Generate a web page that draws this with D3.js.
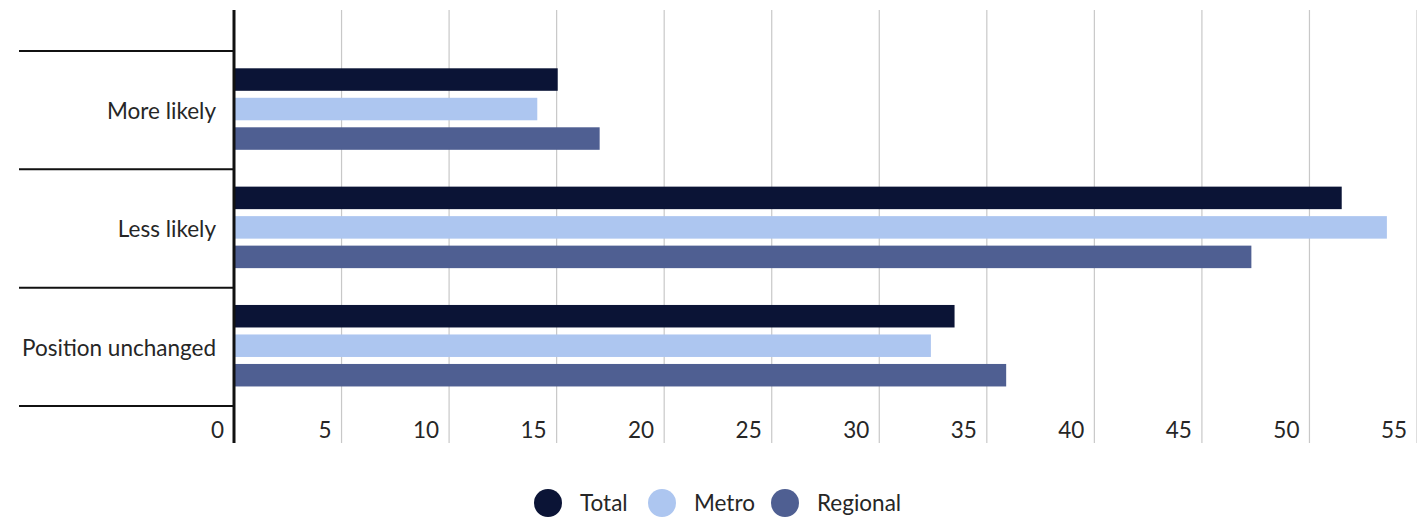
<!DOCTYPE html>
<html><head><meta charset="utf-8">
<script src="https://cdn.jsdelivr.net/npm/d3@7"></script>
<style>
html,body{margin:0;padding:0;background:#fff;}
text{font-family:Lato,"Open Sans",sans-serif;fill:#262626;}
</style></head>
<body><svg id="c" width="1417" height="520"></svg>
<script>
const categories = ["More likely","Less likely","Position unchanged"];
const seriesNames = ["Total","Metro","Regional"];
const totalValues = [15.05, 51.5, 33.5];
const metroValues = [14.1, 53.6, 32.4];
const regionalValues = [17.0, 47.3, 35.9];
const tickValues = [0,5,10,15,20,25,30,35,40,45,50,55];
const colors = ["#0b1436","#adc6f0","#4f5f92"];

const seriesData = [totalValues, metroValues, regionalValues];
const svg = d3.select("#c");
const x = d3.scaleLinear().domain([0,55]).range([234,1417]);
const y = d3.scaleBand().domain(categories).range([51,406]).padding(0);
const yInner = d3.scaleBand().domain(seriesNames).range([17.3,98.8]).paddingInner(0.237).paddingOuter(0);
const axisTop = 10, axisBottom = 443;
const fs = 22.5;

// gridlines
svg.append("g").selectAll("line").data(tickValues.filter(d=>d>0)).join("line")
  .attr("x1",d=>x(d)).attr("x2",d=>x(d)).attr("y1",axisTop).attr("y2",axisBottom)
  .attr("stroke","#c8c8c8").attr("stroke-width",1.2);

// tick labels
svg.append("g").selectAll("text").data(tickValues).join("text")
  .attr("x",d=>x(d)-10).attr("y",438).attr("text-anchor","end")
  .attr("font-size",fs).text(d=>d);

// bars
const g = svg.append("g");
categories.forEach((c,ci)=>{
  seriesNames.forEach((s,si)=>{
    g.append("rect")
      .attr("x",x(0)).attr("y",y(c)+yInner(s))
      .attr("width",x(seriesData[si][ci])-x(0)).attr("height",yInner.bandwidth())
      .attr("fill",colors[si]);
  });
});

// category separators
const seps = categories.map(c=>y(c)).concat([y.range()[1]]);
svg.append("g").selectAll("line").data(seps).join("line")
  .attr("x1",19).attr("x2",234).attr("y1",d=>d).attr("y2",d=>d)
  .attr("stroke","#111").attr("stroke-width",2);

// y axis line
svg.append("line").attr("x1",x(0)).attr("x2",x(0)).attr("y1",axisTop).attr("y2",axisBottom)
  .attr("stroke","#111").attr("stroke-width",3);

// category labels
svg.append("g").selectAll("text").data(categories).join("text")
  .attr("x",216).attr("y",d=>y(d)+y.bandwidth()/2+1).attr("dy","0.35em")
  .attr("text-anchor","end").attr("font-size",fs).text(d=>d);

// legend
const legendX = [548,662,785];
const lg = svg.append("g");
seriesNames.forEach((s,i)=>{
  lg.append("circle").attr("cx",legendX[i]).attr("cy",503).attr("r",14).attr("fill",colors[i]);
  lg.append("text").attr("x",legendX[i]+32).attr("y",503).attr("dy","0.35em")
    .attr("font-size",fs).attr("fill","#333").text(s);
});
</script></body></html>
